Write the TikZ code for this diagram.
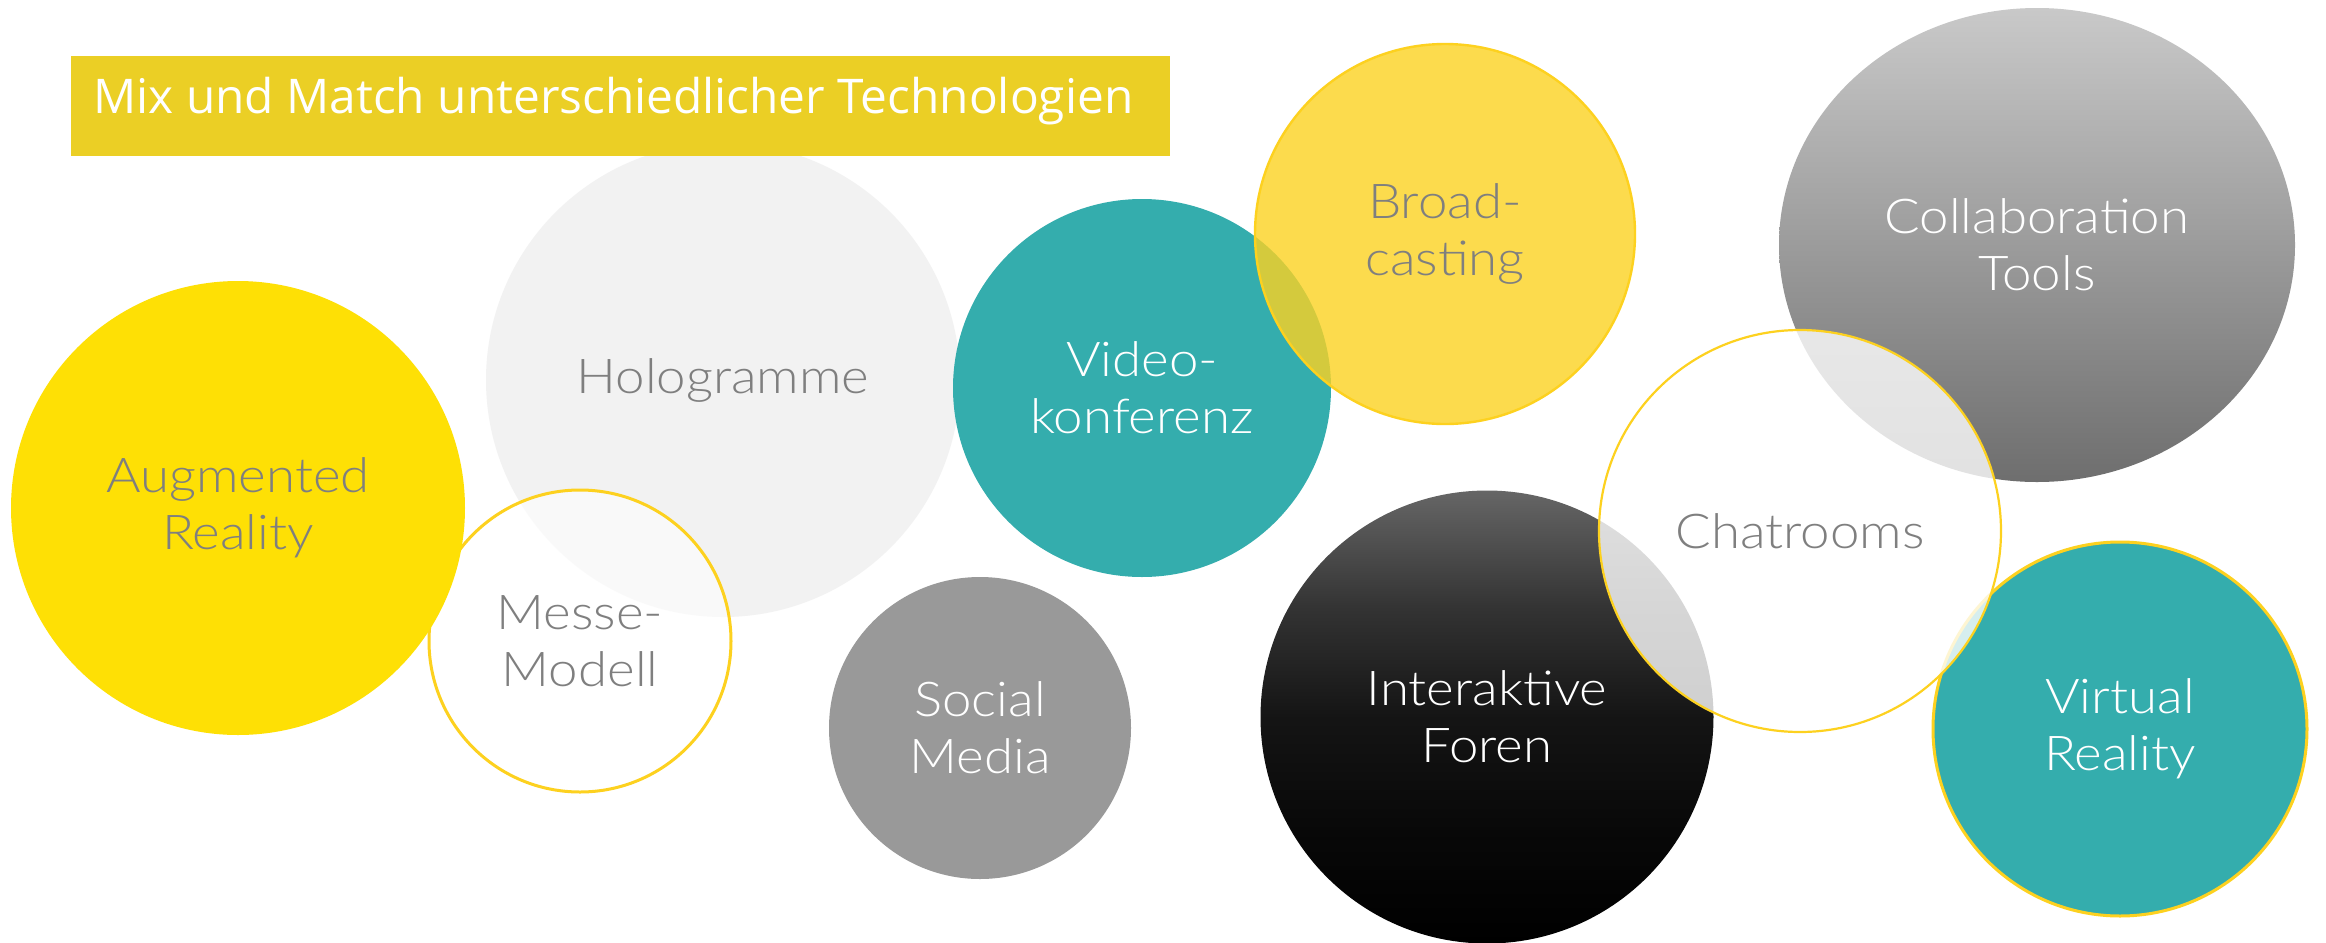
\documentclass[tikz,border=0pt]{standalone}
\usepackage{fontspec}
\setmainfont{Open Sans}
\newfontfamily\labfont{Lato Light}[FakeStretch=1.1]
\usetikzlibrary{shapes.geometric}
\definecolor{barcol}{HTML}{EBCF25}
\definecolor{augyellow}{HTML}{FEE005}
\definecolor{outyellow}{HTML}{FDD11F}
\definecolor{bcyellow}{HTML}{FCD221}
\definecolor{teal}{HTML}{34ADAD}
\definecolor{holo}{HTML}{F2F2F2}
\definecolor{labgray}{HTML}{7F7F7F}
\definecolor{socgray}{HTML}{999999}
\definecolor{coltop}{HTML}{C9C9C9}
\definecolor{colbot}{HTML}{6E6E6E}
\pgfdeclareverticalshading{forenshade}{100bp}{color(0bp)=(black); color(25bp)=(black); color(37bp)=(black!97); color(50bp)=(black!92); color(62bp)=(black!80); color(75bp)=(black!60); color(100bp)=(black!60)}
\tikzset{
  bubble/.style={circle, inner sep=0pt, align=center, text opacity=1,
    font=\labfont\fontsize{24pt}{28.5pt}\selectfont},
  ring/.style={draw=outyellow, line width=1.5pt},
}
\begin{document}
\begin{tikzpicture}[x=0.5pt,y=-0.5pt]
\useasboundingbox (0,0) rectangle (2326,943);
\fill[white] (0,0) rectangle (2326,943);
% Hologramme
\node[bubble, fill=holo, text=labgray, minimum size=237pt] (holo) at (723,380) {Hologramme};
% Messe-Modell
\node[bubble, ring, fill=white, fill opacity=0.6, text=labgray, minimum size=151pt] (messe) at (580,641) {Messe-\\Modell};
% Augmented Reality
\node[bubble, fill=augyellow, text=labgray, minimum size=227pt] (aug) at (238,508) {Augmented\\Reality};
% Social Media
\node[bubble, fill=socgray, text=white, minimum size=151pt] (social) at (980,728) {Social\\Media};
% Videokonferenz
\node[bubble, fill=teal, text=white, minimum size=189pt] (video) at (1142,388) {Video-\\konferenz};
% Broadcasting
\node[bubble, draw=outyellow, line width=1.2pt, fill=bcyellow, fill opacity=0.8, text=labgray, minimum size=190pt] (broad) at (1445,234) {Broad-\\casting};
% Collaboration Tools
\node[ellipse, inner sep=0pt, align=center, top color=coltop, bottom color=colbot, text=white,
  font=\labfont\fontsize{24pt}{28.5pt}\selectfont,
  minimum width=258pt, minimum height=237pt] (collab) at (2037,245) {Collaboration\\Tools};
% Interaktive Foren
\node[bubble, shading=forenshade, text=white, minimum size=226.5pt] (foren) at (1487,717) {Interaktive\\Foren};
% Virtual Reality
\node[bubble, ring, fill=teal, text=white, minimum size=187pt] (vr) at (2120,729) {Virtual\\Reality};
% Chatrooms
\node[bubble, ring, line width=1.1pt, fill=white, fill opacity=0.8, text=labgray, minimum size=201pt] (chat) at (1800,531) {Chatrooms};
% Title bar
\node[fill=barcol, anchor=north west, minimum width=549.5pt, minimum height=50pt, inner sep=0pt] (bar) at (71,56) {};
\node[anchor=base west, text=white, inner sep=0pt, font=\fontsize{23.9pt}{29pt}\selectfont] (title) at (93,113) {Mix und Match unterschiedlicher Technologien};
\end{tikzpicture}
\end{document}
